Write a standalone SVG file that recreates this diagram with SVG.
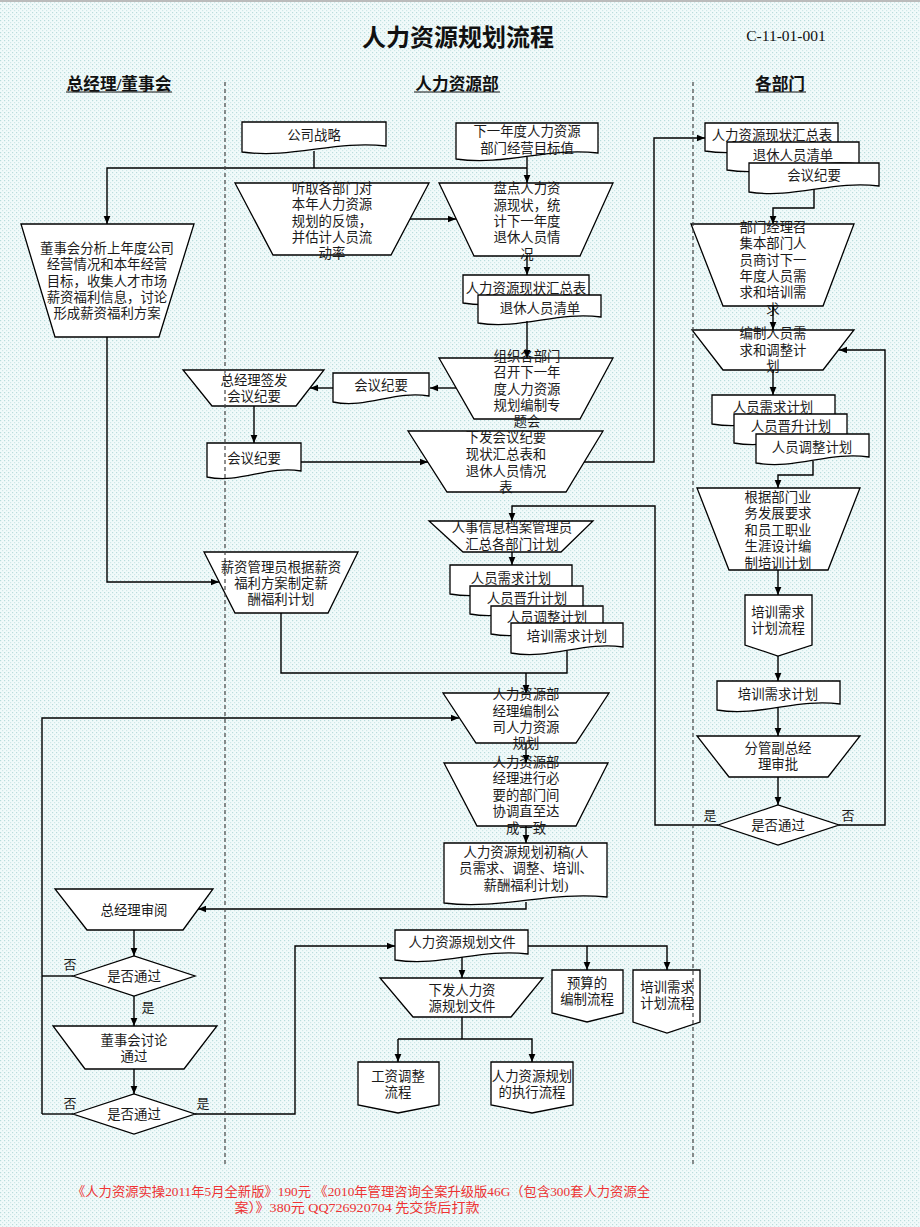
<svg xmlns="http://www.w3.org/2000/svg" width="920" height="1227" viewBox="0 0 920 1227">
<defs>
<pattern id="bg" width="4" height="4" patternUnits="userSpaceOnUse">
<rect width="4" height="4" fill="#f1fafa"/>
<rect x="0" y="0" width="1.2" height="1.2" fill="#b9dcdc"/>
<rect x="2" y="2" width="1.2" height="1.2" fill="#cfe8e8"/>
</pattern>
<marker id="a" viewBox="0 0 10 10" refX="10" refY="5" markerWidth="8" markerHeight="8" markerUnits="userSpaceOnUse" orient="auto">
<path d="M0,0.8 L10,5 L0,9.2 Z" fill="#000"/>
</marker>
<style>
.n{fill:#fff;stroke:#000;stroke-width:1.3}
.t{font-family:"Liberation Serif","Noto Sans CJK SC",serif;font-size:13.4px;fill:#1a1a1a;text-anchor:middle;dominant-baseline:central}
.c{fill:none;stroke:#000;stroke-width:1.4}
.ar{marker-end:url(#a)}
.lane{stroke:#444;stroke-width:1.2;stroke-dasharray:4,3}
.h{font-family:"Liberation Serif","Noto Sans CJK SC",serif;font-size:16.7px;font-weight:bold;fill:#111;text-anchor:middle;dominant-baseline:central}
.lbl{font-family:"Liberation Serif","Noto Sans CJK SC",serif;font-size:13px;fill:#1a1a1a;text-anchor:middle;dominant-baseline:central}
.ft{font-family:"Liberation Serif","Noto Sans CJK SC",serif;font-size:13px;fill:#ee3333;text-anchor:middle;dominant-baseline:central}
</style>
</defs>
<rect width="920" height="1227" fill="url(#bg)"/>
<line x1="0" y1="1" x2="920" y2="1" stroke="#bbb" stroke-width="2"/>

<text x="458" y="38" style="font-family:'Liberation Serif','Noto Sans CJK SC',serif;font-size:24px;font-weight:bold;fill:#111;text-anchor:middle;dominant-baseline:central">人力资源规划流程</text>
<text x="786" y="35" style="font-family:'Liberation Serif',serif;font-size:15.5px;fill:#111;text-anchor:middle;dominant-baseline:central">C-11-01-001</text>

<g id="headers">
<text class="h" x="119" y="84">总经理/董事会</text>
<line x1="66" y1="92" x2="172" y2="92" stroke="#111" stroke-width="1.2"/>
<text class="h" x="457" y="84">人力资源部</text>
<line x1="414" y1="92" x2="500" y2="92" stroke="#111" stroke-width="1.2"/>
<text class="h" x="780" y="84">各部门</text>
<line x1="755" y1="92" x2="806" y2="92" stroke="#111" stroke-width="1.2"/>
</g>

<g id="n-gszl"><path class="n" d="M242,122 H386 V146 C335.6,140 292.4,159 242,152 Z"/><text class="t" x="314" y="135">公司战略</text></g>
<g id="n-xyndmb"><path class="n" d="M456,123 H598 V153 C548.3,147 505.7,166 456,159 Z"/><text class="t" x="527" y="131">下一年度人力资源</text><text class="t" x="527" y="148">部门经营目标值</text></g>
<g id="n-tq"><polygon class="n" points="235,183 429,183 391,255 273,255"/><text class="t" x="332" y="188">听取各部门对</text><text class="t" x="332" y="204">本年人力资源</text><text class="t" x="332" y="221">规划的反馈，</text><text class="t" x="332" y="237">并估计人员流</text><text class="t" x="332" y="253">动率</text></g>
<g id="n-pd"><polygon class="n" points="439,183 613,183 580,256 474,256"/><text class="t" x="527" y="188">盘点人力资</text><text class="t" x="527" y="205">源现状，统</text><text class="t" x="527" y="221">计下一年度</text><text class="t" x="527" y="237">退休人员情</text><text class="t" x="527" y="254">况</text></g>
<g id="n-dshfx"><polygon class="n" points="21,224 194,224 159,337 55,337"/><text class="t" x="107" y="248">董事会分析上年度公司</text><text class="t" x="107" y="264.5">经营情况和本年经营</text><text class="t" x="107" y="281">目标，收集人才市场</text><text class="t" x="107" y="297">薪资福利信息，讨论</text><text class="t" x="107" y="313.5">形成薪资福利方案</text></g>
<g id="n-xzhzb1"><path class="n" d="M463,275 H589 V297 C544.9,291 507.1,310 463,303 Z"/><text class="t" x="526" y="288">人力资源现状汇总表</text></g>
<g id="n-txqd1"><path class="n" d="M478,295 H601 V317 C558,311 521,330 478,323 Z"/><text class="t" x="540" y="308">退休人员清单</text></g>
<g id="n-zz"><polygon class="n" points="439,358 613,358 580,419 474,419"/><text class="t" x="527" y="356">组织各部门</text><text class="t" x="527" y="372">召开下一年</text><text class="t" x="527" y="389">度人力资源</text><text class="t" x="527" y="405">规划编制专</text><text class="t" x="527" y="421">题会</text></g>
<g id="n-hyjy1"><path class="n" d="M333,373 H429 V396 C395.4,390 366.6,409 333,402 Z"/><text class="t" x="381" y="385">会议纪要</text></g>
<g id="n-zjlqf"><polygon class="n" points="183,370 324,370 296,406 212,406"/><text class="t" x="254" y="380">总经理签发</text><text class="t" x="254" y="396">会议纪要</text></g>
<g id="n-hyjy2"><path class="n" d="M207,443 H301 V471 C268.1,465 239.9,484 207,477 Z"/><text class="t" x="254" y="458">会议纪要</text></g>
<g id="n-xfhy"><polygon class="n" points="408,431 603,431 566,492 447,492"/><text class="t" x="506" y="437">下发会议纪要</text><text class="t" x="506" y="454">现状汇总表和</text><text class="t" x="506" y="471">退休人员情况</text><text class="t" x="506" y="487">表</text></g>

<g id="n-xzhzb2"><path class="n" d="M705,123 H838 V145 C791.5,139 751.5,158 705,151 Z"/><text class="t" x="772" y="135">人力资源现状汇总表</text></g>
<g id="n-txqd2"><path class="n" d="M727,142 H859 V164 C812.8,158 773.2,177 727,170 Z"/><text class="t" x="793" y="155">退休人员清单</text></g>
<g id="n-hyjy3"><path class="n" d="M749,163 H879 V186 C833.5,180 794.5,199 749,192 Z"/><text class="t" x="814" y="175">会议纪要</text></g>
<g id="n-bmjl"><polygon class="n" points="691,224 854,224 823,306 723,306"/><text class="t" x="773" y="227">部门经理召</text><text class="t" x="773" y="243">集本部门人</text><text class="t" x="773" y="260">员商讨下一</text><text class="t" x="773" y="276">年度人员需</text><text class="t" x="773" y="292">求和培训需</text><text class="t" x="773" y="309">求</text></g>
<g id="n-bz"><polygon class="n" points="692,330 854,330 823,370 723,370"/><text class="t" x="773" y="333">编制人员需</text><text class="t" x="773" y="350">求和调整计</text><text class="t" x="773" y="366">划</text></g>
<g id="n-xq2"><path class="n" d="M712,395 H835 V418 C792,412 755,431 712,424 Z"/><text class="t" x="773" y="407">人员需求计划</text></g>
<g id="n-js2"><path class="n" d="M734,414 H847 V437 C807.5,431 773.5,450 734,443 Z"/><text class="t" x="791" y="426">人员晋升计划</text></g>
<g id="n-tz2"><path class="n" d="M756,434 H869 V457 C829.5,451 795.5,470 756,463 Z"/><text class="t" x="812" y="447">人员调整计划</text></g>
<g id="n-gj"><polygon class="n" points="697,488 860,488 828,570 729,570"/><text class="t" x="778" y="497">根据部门业</text><text class="t" x="778" y="513">务发展要求</text><text class="t" x="778" y="530">和员工职业</text><text class="t" x="778" y="546">生涯设计编</text><text class="t" x="778" y="563">制培训计划</text></g>
<g id="n-pxlc1"><path class="n" d="M745,595 H812 V645 L778,656 L745,645 Z"/><text class="t" x="778" y="612">培训需求</text><text class="t" x="778" y="628">计划流程</text></g>
<g id="n-pxjh2"><path class="n" d="M717,681 H840 V704 C797,698 760,717 717,710 Z"/><text class="t" x="778" y="694">培训需求计划</text></g>
<g id="n-fg"><polygon class="n" points="697,736 860,736 828,777 729,777"/><text class="t" x="778" y="748">分管副总经</text><text class="t" x="778" y="764">理审批</text></g>
<g id="n-sf3"><polygon class="n" points="718,825 778,805 839,825 778,845"/><text class="t" x="778" y="825">是否通过</text></g>

<g id="n-rsxx"><polygon class="n" points="429,521 593,521 561,552 463,552"/><text class="t" x="512" y="527">人事信息档案管理员</text><text class="t" x="512" y="544">汇总各部门计划</text></g>
<g id="n-xq1"><path class="n" d="M450,565 H572 V588 C529.3,582 492.7,601 450,594 Z"/><text class="t" x="511" y="578">人员需求计划</text></g>
<g id="n-js1"><path class="n" d="M470,586 H583 V608 C543.5,602 509.5,621 470,614 Z"/><text class="t" x="527" y="598">人员晋升计划</text></g>
<g id="n-tz1"><path class="n" d="M491,606 H603 V628 C563.8,622 530.2,641 491,634 Z"/><text class="t" x="547" y="617">人员调整计划</text></g>
<g id="n-px1"><path class="n" d="M511,623 H623 V647 C583.8,641 550.2,660 511,653 Z"/><text class="t" x="567" y="636">培训需求计划</text></g>
<g id="n-xzgl"><polygon class="n" points="204,552 358,552 328,613 235,613"/><text class="t" x="281" y="567">薪资管理员根据薪资</text><text class="t" x="281" y="583">福利方案制定薪</text><text class="t" x="281" y="599">酬福利计划</text></g>
<g id="n-jlbz"><polygon class="n" points="443,693 609,693 576,743 476,743"/><text class="t" x="526" y="694">人力资源部</text><text class="t" x="526" y="711">经理编制公</text><text class="t" x="526" y="727">司人力资源</text><text class="t" x="526" y="743">规划</text></g>
<g id="n-jljx"><polygon class="n" points="444,763 608,763 576,826 477,826"/><text class="t" x="526" y="762">人力资源部</text><text class="t" x="526" y="778">经理进行必</text><text class="t" x="526" y="795">要的部门间</text><text class="t" x="526" y="811">协调直至达</text><text class="t" x="526" y="828">成一致</text></g>
<g id="n-cg"><path class="n" d="M444,843 H607 V897 C550,891 501,910 444,903 Z"/><text class="t" x="526" y="852">人力资源规划初稿(人</text><text class="t" x="526" y="868">员需求、调整、培训、</text><text class="t" x="526" y="885">薪酬福利计划)</text></g>

<g id="n-zjlsy"><polygon class="n" points="55,889 213,889 183,930 87,930"/><text class="t" x="134" y="910">总经理审阅</text></g>
<g id="n-sf1"><polygon class="n" points="73,976 134,956 195,976 134,996"/><text class="t" x="134" y="976">是否通过</text></g>
<g id="n-dshtl"><polygon class="n" points="53,1026 217,1026 184,1069 85,1069"/><text class="t" x="134" y="1040">董事会讨论</text><text class="t" x="134" y="1056">通过</text></g>
<g id="n-sf2"><polygon class="n" points="73,1114 134,1094 195,1114 134,1134"/><text class="t" x="134" y="1114">是否通过</text></g>

<g id="n-wj"><path class="n" d="M395,930 H528 V954 C481.5,948 441.5,967 395,960 Z"/><text class="t" x="462" y="942">人力资源规划文件</text></g>
<g id="n-xfwj"><polygon class="n" points="380,978 543,978 511,1017 413,1017"/><text class="t" x="462" y="990">下发人力资</text><text class="t" x="462" y="1006">源规划文件</text></g>
<g id="n-ys"><path class="n" d="M552,970 H623 V1013 L587,1022 L552,1013 Z"/><text class="t" x="587" y="983">预算的</text><text class="t" x="587" y="999">编制流程</text></g>
<g id="n-pxlc2"><path class="n" d="M633,970 H700 V1022 L667,1033 L633,1022 Z"/><text class="t" x="667" y="987">培训需求</text><text class="t" x="667" y="1003">计划流程</text></g>
<g id="n-gztz"><path class="n" d="M358,1062 H439 V1105 L398,1113 L358,1105 Z"/><text class="t" x="398" y="1076">工资调整</text><text class="t" x="398" y="1092">流程</text></g>
<g id="n-zx"><path class="n" d="M491,1062 H573 V1105 L532,1113 L491,1105 Z"/><text class="t" x="532" y="1076">人力资源规划</text><text class="t" x="532" y="1092">的执行流程</text></g>

<g id="connectors">
<path class="c" d="M314,151 V168"/>
<path class="c ar" d="M527,168 H107 V224"/>
<path class="c ar" d="M527,157 V183"/>
<path class="c ar" d="M410,219 H456"/>
<path class="c ar" d="M527,256 V275"/>
<path class="c ar" d="M527,321 V358"/>
<path class="c ar" d="M456,388 H430"/>
<path class="c ar" d="M333,388 H310"/>
<path class="c ar" d="M254,406 V443"/>
<path class="c ar" d="M301,462 H428"/>
<path class="c ar" d="M584,462 H654 V138 H705"/>
<path class="c ar" d="M814,189 V208 H773 V224"/>
<path class="c ar" d="M773,306 V330"/>
<path class="c ar" d="M773,370 V395"/>
<path class="c ar" d="M813,461 V475 H778 V488"/>
<path class="c ar" d="M778,570 V595"/>
<path class="c ar" d="M778,656 V681"/>
<path class="c ar" d="M778,707 V736"/>
<path class="c ar" d="M778,777 V805"/>
<path class="c ar" d="M718,825 H655 V506 H512 V521"/>
<path class="c ar" d="M839,825 H885 V350 H839"/>
<path class="c ar" d="M512,552 V565"/>
<path class="c" d="M567,651 V673 H281 V613"/>
<path class="c ar" d="M526,673 V693"/>
<path class="c ar" d="M107,337 V582 H219"/>
<path class="c ar" d="M42,1114 V718 H459"/>
<path class="c" d="M73,976 H42"/>
<path class="c" d="M73,1114 H42"/>
<path class="c ar" d="M526,743 V763"/>
<path class="c ar" d="M526,826 V843"/>
<path class="c ar" d="M526,902 V909 H198"/>
<path class="c ar" d="M134,930 V956"/>
<path class="c ar" d="M134,996 V1026"/>
<path class="c ar" d="M134,1069 V1094"/>
<path class="c ar" d="M195,1114 H295 V946 H395"/>
<path class="c ar" d="M528,946 H667 V970"/>
<path class="c ar" d="M587,946 V970"/>
<path class="c ar" d="M462,957 V978"/>
<path class="c" d="M462,1017 V1039"/>
<path class="c ar" d="M398,1039 V1062"/>
<path class="c ar" d="M398,1039 H532 V1062"/>
<text class="lbl" x="710" y="815">是</text>
<text class="lbl" x="848" y="815">否</text>
<text class="lbl" x="70" y="964">否</text>
<text class="lbl" x="148" y="1007">是</text>
<text class="lbl" x="70" y="1103">否</text>
<text class="lbl" x="203" y="1103">是</text>
</g>

<g id="lanes">
<line class="lane" x1="225" y1="82" x2="225" y2="1165"/>
<line class="lane" x1="693" y1="82" x2="693" y2="1165"/>
</g>

<g id="footer">
<text class="ft" x="361" y="1191" textLength="578" lengthAdjust="spacingAndGlyphs">《人力资源实操2011年5月全新版》190元 《2010年管理咨询全案升级版46G（包含300套人力资源全</text>
<text class="ft" x="357" y="1207" textLength="245" lengthAdjust="spacingAndGlyphs">案）》380元 QQ726920704 先交货后打款</text>
</g>
</svg>
